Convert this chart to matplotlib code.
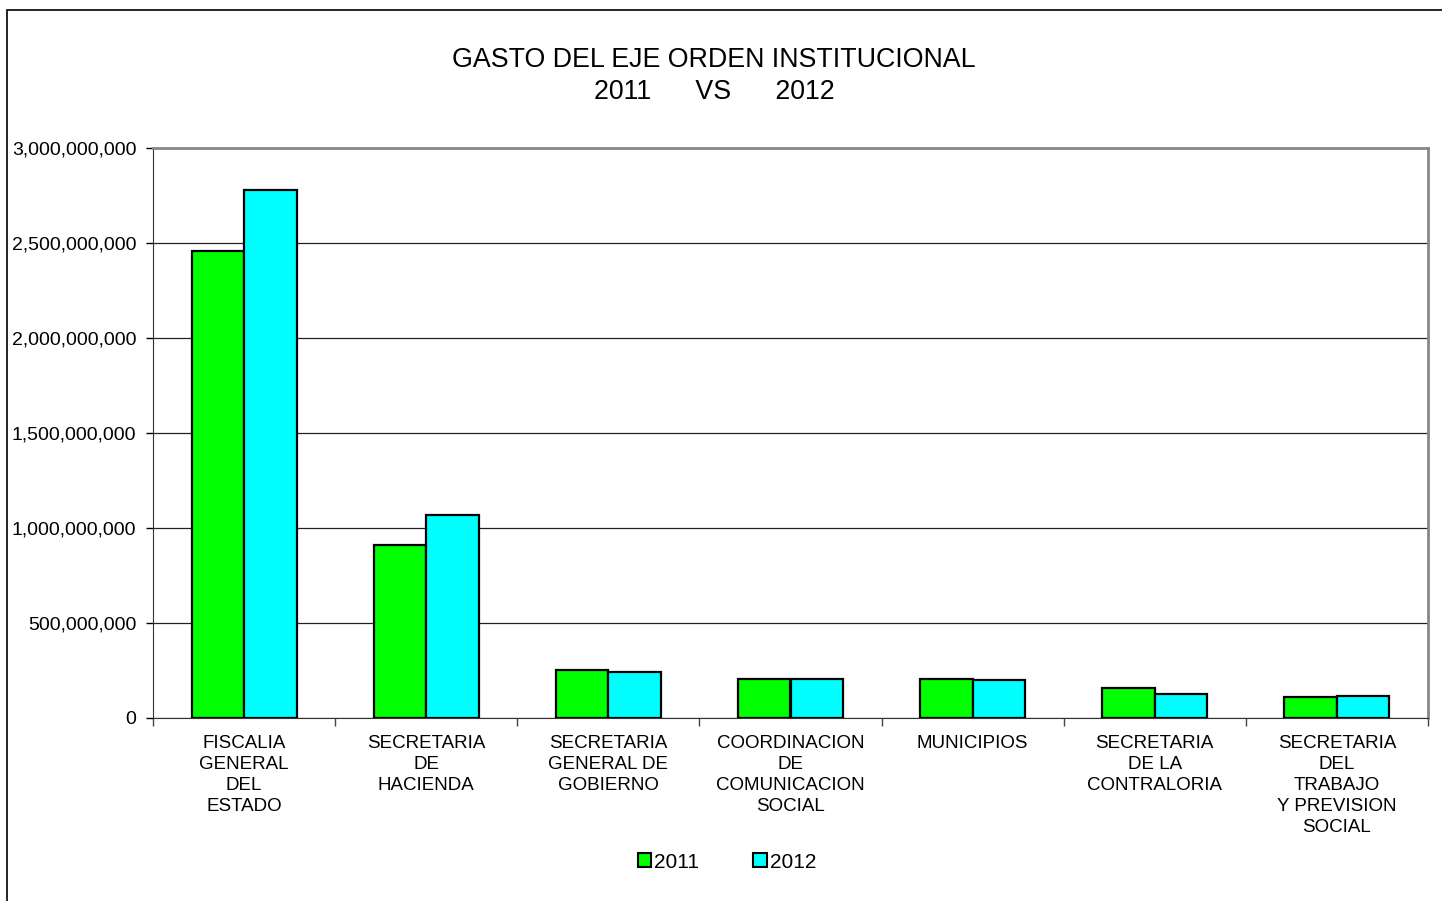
"""Gasto del eje orden institucional, 2011 vs 2012."""
import numpy as np
import matplotlib
matplotlib.use("Agg")
import matplotlib.pyplot as plt
from matplotlib.patches import Patch, Rectangle
from matplotlib.ticker import FuncFormatter, MultipleLocator

plt.rcParams['font.family'] = ['Liberation Sans', 'DejaVu Sans']

categorias = [
    "FISCALIA\nGENERAL\nDEL\nESTADO",
    "SECRETARIA\nDE\nHACIENDA",
    "SECRETARIA\nGENERAL DE\nGOBIERNO",
    "COORDINACION\nDE\nCOMUNICACION\nSOCIAL",
    "MUNICIPIOS",
    "SECRETARIA\nDE LA\nCONTRALORIA",
    "SECRETARIA\nDEL\nTRABAJO\nY PREVISION\nSOCIAL",
]
gasto_2011 = [2456e6, 912e6, 251e6, 204e6, 205e6, 157e6, 109e6]
gasto_2012 = [2781e6, 1066e6, 241e6, 204e6, 199e6, 128e6, 114e6]
series = ["2011", "2012"]
colores = ["#00ff00", "#00ffff"]

W, H = 1442, 901
fig = plt.figure(figsize=(W / 100, H / 100), dpi=100)

# marco exterior del grafico
fig.patches.append(Rectangle((7 / W, -0.1), 1.2, 1.1 - 10 / H,
                             transform=fig.transFigure, fill=False,
                             edgecolor="black", linewidth=1.2))

ax = fig.add_axes([153 / W, 1 - 718 / H, (1428 - 153) / W, (718 - 148) / H])

x = np.arange(len(categorias))
ancho = 0.288
for desp, vals, col, lab in zip([-ancho / 2, ancho / 2], [gasto_2011, gasto_2012],
                                colores, series):
    ax.bar(x + desp, vals, width=ancho, color=col, edgecolor="black",
           linewidth=1.6, label=lab, zorder=3)

ax.set_xlim(-0.5, len(categorias) - 0.5)
ax.set_ylim(0, 3e9)
ax.yaxis.set_major_locator(MultipleLocator(5e8))
ax.yaxis.set_major_formatter(FuncFormatter(lambda v, p: f"{v:,.0f}"))
ax.grid(axis="y", color="#222222", linewidth=0.9, zorder=0)

# marcas en los limites de categoria, etiquetas en el centro
ax.set_xticks(np.arange(-0.5, len(categorias)), labels=[""] * (len(categorias) + 1))
ax.set_xticks(x, labels=categorias, minor=True)
ax.tick_params(axis="x", which="major", length=6, width=1, color="#444444")
ax.tick_params(axis="x", which="minor", length=0, pad=12, labelsize=13.5)
ax.tick_params(axis="y", length=5, width=1, labelsize=14, pad=7)
for t in ax.get_xticklabels(minor=True):
    t.set_multialignment("center")
    t.set_linespacing(1.32)

for lado in ["top", "right"]:
    ax.spines[lado].set_color("#888888")
    ax.spines[lado].set_linewidth(2)
ax.spines["left"].set_color("#333333")
ax.spines["bottom"].set_color("#333333")

fig.text(714 / W, 1 - 60 / H, "GASTO DEL EJE ORDEN INSTITUCIONAL",
         ha="center", va="center", fontsize=19.3)
fig.text(714 / W, 1 - 92 / H, "2011      VS      2012",
         ha="center", va="center", fontsize=19.3)

handles = [Patch(facecolor=c, edgecolor="black", linewidth=1.5) for c in colores]
fig.legend(handles, series, loc="center", bbox_to_anchor=(727 / W, 1 - 862 / H),
           ncol=2, frameon=False, fontsize=15, handlelength=0.65, handleheight=0.65,
           handletextpad=0.15, columnspacing=2.6)

fig.savefig("out.png", dpi=100)
